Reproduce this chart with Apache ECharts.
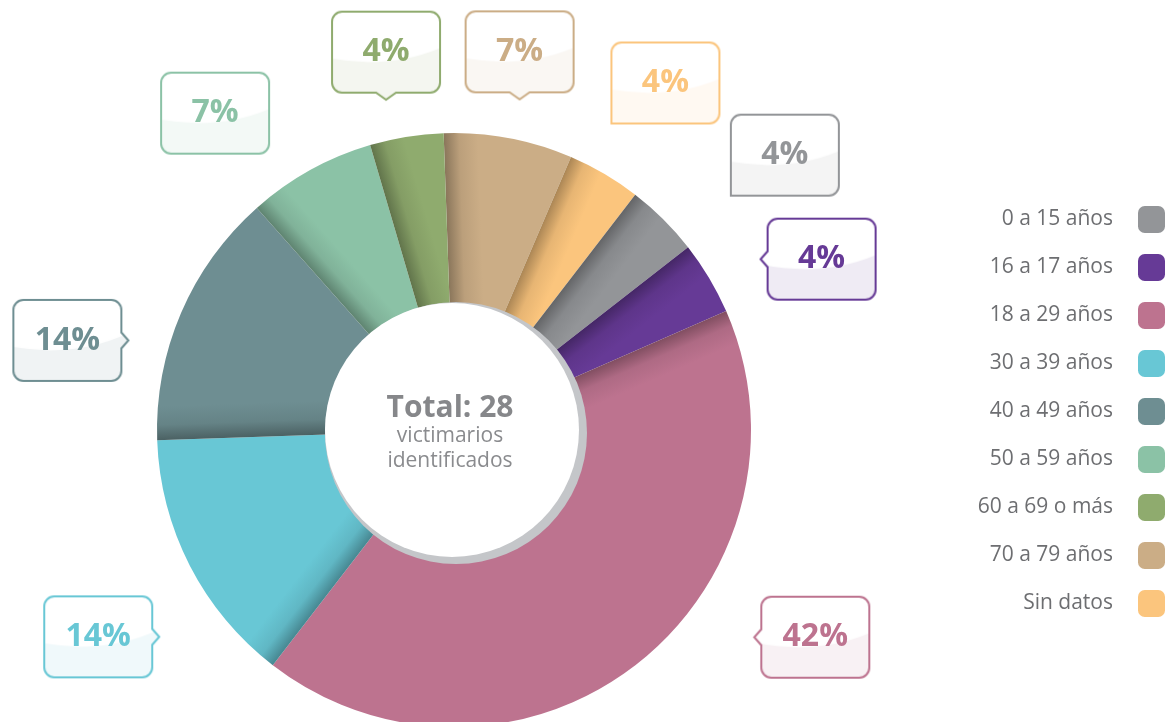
<!DOCTYPE html>
<html>
<head>
<meta charset="utf-8">
<script src="https://cdn.jsdelivr.net/npm/echarts@6/dist/echarts.min.js"></script>
<style>
  html, body { margin: 0; padding: 0; background: #fff; }
  #main { width: 1170px; height: 722px; }
</style>
</head>
<body>
<div id="main"></div>
<script>
// pie order (clockwise from the top)
var sliceNames = ['70 a 79 años', 'Sin datos', '0 a 15 años', '16 a 17 años', '18 a 29 años',
                  '30 a 39 años', '40 a 49 años', '50 a 59 años', '60 a 69 o más'];
var sliceValues = [7, 4, 4, 4, 42, 14, 14, 7, 4];
var sliceColors = ['#cbad86', '#fbc57d', '#939598', '#663a96', '#bd738f',
                   '#68c7d5', '#6e8e92', '#8bc2a6', '#8fab6e'];
// legend order
var legendNames = ['0 a 15 años', '16 a 17 años', '18 a 29 años', '30 a 39 años', '40 a 49 años',
                   '50 a 59 años', '60 a 69 o más', '70 a 79 años', 'Sin datos'];
var totalText = 'Total: 28';
var subText = 'victimarios\nidentificados';

// callout look: nudge (px), which side has the little pointer, square bottom-left corner
var labelOffsets = [[-13, 15], [4, -2], [44, 9], [19, 34], [110, -108], [5, 24], [-14, 68], [-40, 33], [1, 17]];
var pointerSide = ['bottom', 'none', 'none', 'left', 'left', 'right', 'right', 'none', 'bottom'];
var squareCorner = [false, true, true, false, false, false, false, false, false];

var FONT = '"Open Sans", "DejaVu Sans", sans-serif';
var CX = 454, CY = 430, START = 92;

function rgb(hex) {
  return [parseInt(hex.slice(1, 3), 16), parseInt(hex.slice(3, 5), 16), parseInt(hex.slice(5, 7), 16)];
}
function hexAlpha(hex, a) {
  var c = rgb(hex);
  return 'rgba(' + c[0] + ',' + c[1] + ',' + c[2] + ',' + a + ')';
}
function darken(hex, k) {
  var c = rgb(hex);
  return 'rgb(' + Math.round(c[0] * (1 - k)) + ',' + Math.round(c[1] * (1 - k)) + ',' + Math.round(c[2] * (1 - k)) + ')';
}

function boxPath(ctx, x, y, w, h, r, side, square) {
  var cx = x + w / 2, cy = y + h / 2;
  ctx.beginPath();
  ctx.moveTo(x + r, y);
  ctx.lineTo(x + w - r, y);
  ctx.arcTo(x + w, y, x + w, y + r, r);
  if (side === 'right') {
    ctx.lineTo(x + w, cy - 8); ctx.lineTo(x + w + 7, cy); ctx.lineTo(x + w, cy + 8);
  }
  ctx.lineTo(x + w, y + h - r);
  ctx.arcTo(x + w, y + h, x + w - r, y + h, r);
  if (side === 'bottom') {
    ctx.lineTo(cx + 10, y + h); ctx.lineTo(cx, y + h + 7); ctx.lineTo(cx - 10, y + h);
  }
  if (square) {
    ctx.lineTo(x, y + h);
  } else {
    ctx.lineTo(x + r, y + h);
    ctx.arcTo(x, y + h, x, y + h - r, r);
  }
  if (side === 'left') {
    ctx.lineTo(x, cy + 8); ctx.lineTo(x - 7, cy); ctx.lineTo(x, cy - 8);
  }
  ctx.lineTo(x, y + r);
  ctx.arcTo(x, y, x + r, y, r);
  ctx.closePath();
}

// glossy callout box drawn once per colour
var M = 9, BW = 108, BH = 81;
function makeBox(color, side, square) {
  var c = document.createElement('canvas');
  c.width = BW + 2 * M; c.height = BH + 2 * M;
  var ctx = c.getContext('2d');
  boxPath(ctx, M, M, BW, BH, 10, side, square);
  ctx.fillStyle = '#ffffff';
  ctx.fill();
  ctx.save();
  ctx.clip();
  ctx.fillStyle = hexAlpha(color, 0.1);
  ctx.beginPath();
  ctx.moveTo(0, M + BH * 0.56);
  ctx.quadraticCurveTo(M + BW * 0.55, M + BH * 0.74, M + BW + M, M + BH * 0.4);
  ctx.lineTo(c.width, c.height);
  ctx.lineTo(0, c.height);
  ctx.closePath();
  ctx.fill();
  ctx.restore();
  boxPath(ctx, M, M, BW, BH, 10, side, square);
  ctx.lineWidth = 2;
  ctx.strokeStyle = color;
  ctx.stroke();
  return c;
}

// soft shade along the leading edge of each slice
var total = sliceValues.reduce(function (a, b) { return a + b; }, 0);
var acc = 0;
var shades = sliceValues.map(function (v, i) {
  var a = (START - acc / total * 360 - 90) * Math.PI / 180;
  acc += v;
  var W = 34;
  return new echarts.graphic.LinearGradient(CX, CY, CX + Math.cos(a) * W, CY - Math.sin(a) * W, [
    { offset: 0, color: darken(sliceColors[i], 0.32) },
    { offset: 0.45, color: darken(sliceColors[i], 0.08) },
    { offset: 1, color: sliceColors[i] }
  ], true);
});

var chart = echarts.init(document.getElementById('main'));

var pieData = sliceNames.map(function (n, i) {
  return {
    name: n,
    value: sliceValues[i],
    itemStyle: { color: shades[i] },
    label: {
      color: sliceColors[i],
      backgroundColor: { image: makeBox(sliceColors[i], pointerSide[i], squareCorner[i]) }
    }
  };
});

var option = {
  backgroundColor: '#ffffff',
  color: sliceColors,
  legend: {
    orient: 'vertical',
    right: 0,
    top: 201,
    align: 'right',
    icon: 'roundRect',
    itemWidth: 27,
    itemHeight: 27,
    itemGap: 21,
    data: legendNames.map(function (n) {
      return { name: n, itemStyle: { color: sliceColors[sliceNames.indexOf(n)] } };
    }),
    selectedMode: false,
    textStyle: {
      fontFamily: FONT,
      fontSize: 21,
      color: '#6d6e71',
      padding: [0, 20, 0, 0]
    }
  },
  graphic: [
    {
      type: 'circle', z: 100, silent: true,
      shape: { cx: 456, cy: 433, r: 131 },
      style: { fill: '#c4c6c9' }
    },
    {
      type: 'circle', z: 101, silent: true,
      shape: { cx: 452, cy: 430, r: 127 },
      style: { fill: '#ffffff' }
    },
    {
      type: 'text', z: 102, silent: true,
      x: 450, y: 408,
      style: {
        text: totalText, align: 'center', verticalAlign: 'middle',
        font: 'bold 30px ' + FONT, fill: '#86878a'
      }
    },
    {
      type: 'text', z: 102, silent: true,
      x: 450, y: 449,
      style: {
        text: subText, align: 'center', verticalAlign: 'middle',
        font: '21px ' + FONT, lineHeight: 25, fill: '#8a8b8e'
      }
    }
  ],
  series: [
    {
      type: 'pie',
      center: [CX, CY],
      radius: [120, 297],
      startAngle: START,
      clockwise: true,
      avoidLabelOverlap: false,
      silent: true,
      label: {
        show: true,
        position: 'outside',
        formatter: '{d}%',
        fontFamily: FONT,
        fontSize: 32,
        fontWeight: 'bold',
        width: BW + 2 * M,
        height: BH + 2 * M,
        lineHeight: BH + 2 * M,
        align: 'center',
        padding: 0
      },
      labelLine: { show: false, length: 103, length2: 0 },
      labelLayout: function (params) {
        var o = labelOffsets[params.dataIndex];
        return { align: 'center', verticalAlign: 'middle', dx: o[0], dy: o[1] };
      },
      data: pieData
    }
  ]
};

chart.setOption(option);
</script>
</body>
</html>
